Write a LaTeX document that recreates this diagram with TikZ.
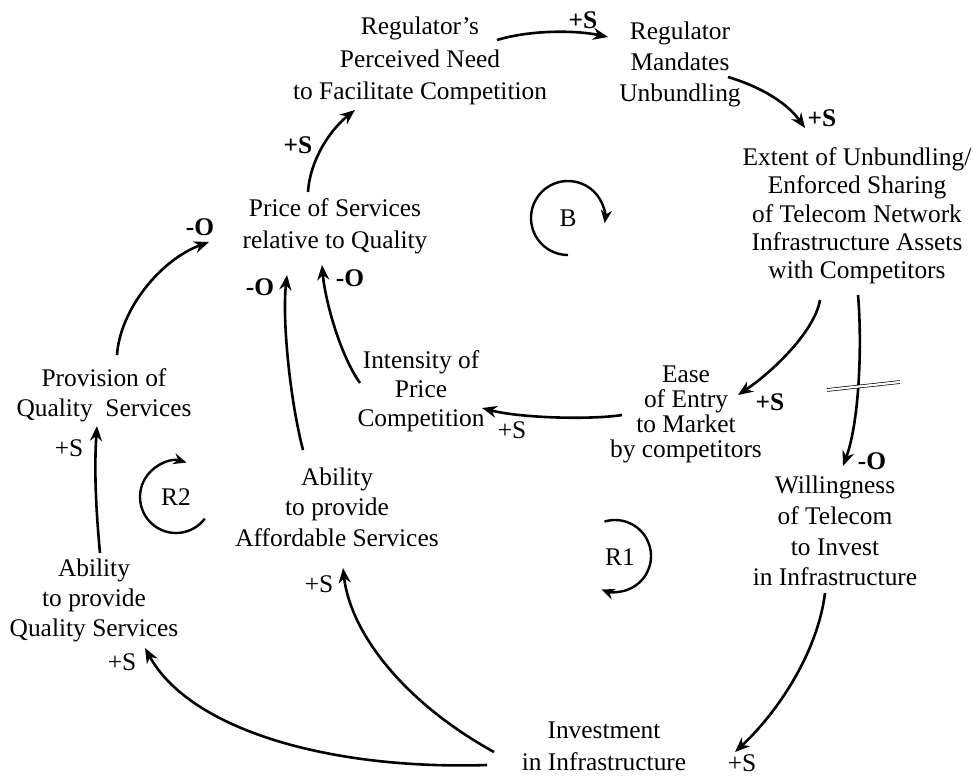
\documentclass[tikz,border=0pt]{standalone}
\usepackage{fontspec}
\setmainfont{Liberation Serif}
\usetikzlibrary{arrows.meta}
\newcommand\fsz[1]{\fontsize{25.4}{#1}\selectfont}
\begin{document}
\begin{tikzpicture}[x=1pt,y=1pt,
  box/.style={align=center, inner sep=0pt},
  arr/.style={line width=2.6pt, -{Stealth[length=15pt,width=12pt]}},
  loopar/.style={line width=2.4pt, -{Stealth[length=13pt,width=11pt]}},
  pol/.style={inner sep=0pt, font=\fsz{30}\bfseries},
  poln/.style={inner sep=0pt, font=\fsz{30}},
  lp/.style={inner sep=0pt, font=\fsz{30}}]
\useasboundingbox (0,0) rectangle (973,-776);
% nodes
\node[box, font=\fsz{32.5}] (RN) at (420,-61) {Regulator’s\\Perceived Need\\to Facilitate Competition};
\node[box, font=\fsz{31}] (RM) at (680,-64) {Regulator\\Mandates\\Unbundling};
\node[box, font=\fsz{28.3}] (EX) at (857,-216) {Extent of Unbundling/\\Enforced Sharing\\of Telecom Network\\Infrastructure Assets\\with Competitors};
\node[box, font=\fsz{32}] (PS) at (335,-226) {Price of Services\\relative to Quality};
\node[box, font=\fsz{30}] (PQ) at (104,-395) {Provision of\\Quality\ \ Services};
\node[box, font=\fsz{29}] (IC) at (421,-391) {Intensity of\\Price\\Competition};
\node[box, font=\fsz{25}] (EE) at (686,-414) {Ease\\of Entry\\to Market\\by competitors};
\node[box, font=\fsz{30.5}] (AA) at (337,-507) {Ability\\to provide\\Affordable Services};
\node[box, font=\fsz{30}] (AQ) at (94,-600) {Ability\\to provide\\Quality Services};
\node[box, font=\fsz{30.7}] (WI) at (835,-531) {Willingness\\of Telecom\\to Invest\\in Infrastructure};
\node[box, font=\fsz{32}] (IN) at (604,-746) {Investment\\in Infrastructure};
% connectors
\draw[arr] ([shift={(77,21)}]RN.center) .. controls (530,-30) and (575,-30) .. ([shift={(-72,27)}]RM.center);
\node[pol] (l1) at (583,-20) {+S};
\draw[arr] ([shift={(48,-13)}]RM.center) .. controls (755,-85) and (785,-100) .. ([shift={(-52,88)}]EX.center);
\node[pol] (l2) at (822,-118) {+S};
\draw[arr] ([shift={(-37,-84)}]EX.center) .. controls (815,-330) and (775,-370) .. ([shift={(52,19)}]EE.center);
\node[pol] (l3) at (770,-402) {+S};
\draw[arr] ([shift={(1,-79)}]EX.center) .. controls (862,-340) and (860,-420) .. ([shift={(8,65)}]WI.center);
\node[pol] (l4) at (872,-461) {-O};
\coordinate (d1) at (827,-390);
\coordinate (d2) at (900,-382);
\draw[line width=0.7pt, double=white, double distance=2.2pt] (d1) -- (d2);
\draw[arr] ([shift={(-64,-1)}]EE.center) .. controls (590,-420) and (520,-418) .. ([shift={(61,-17)}]IC.center);
\node[poln] (l5) at (512,-430) {+S};
\draw[arr] ([shift={(-61,8)}]IC.center) .. controls (340,-355) and (325,-300) .. ([shift={(-13,-39)}]PS.center);
\node[pol] (l6) at (350,-278) {-O};
\draw[arr] ([shift={(-34,57)}]AA.center) .. controls (290,-400) and (282,-320) .. ([shift={(-48,-49)}]PS.center);
\node[pol] (l7) at (260,-287) {-O};
\draw[arr] ([shift={(13,40)}]PQ.center) .. controls (120,-310) and (160,-260) .. ([shift={(-126,-16)}]PS.center);
\node[pol] (l8) at (200,-227) {-O};
\draw[arr] ([shift={(-27,34)}]PS.center) .. controls (310,-160) and (330,-130) .. ([shift={(-65,-49)}]RN.center);
\node[pol] (l9) at (298,-145) {+S};
\draw[arr] ([shift={(6,47)}]AQ.center) .. controls (96,-510) and (94,-470) .. ([shift={(-7,-31)}]PQ.center);
\node[poln] (l10) at (69,-448) {+S};
\draw[arr] ([shift={(-110,-6)}]IN.center) .. controls (400,-700) and (350,-630) .. ([shift={(6,-61)}]AA.center);
\node[poln] (l11) at (319,-584) {+S};
\draw[arr] ([shift={(-117,-19)}]IN.center) .. controls (330,-770) and (190,-730) .. ([shift={(51,-48)}]AQ.center);
\node[poln] (l12) at (122,-662) {+S};
\draw[arr] ([shift={(-10,-62)}]WI.center) .. controls (818,-650) and (780,-710) .. ([shift={(131,-6)}]IN.center);
\node[poln] (l13) at (742,-763) {+S};
% loops
\node[lp] (B) at (568,-218) {B};
\draw[loopar] ([shift={(-90:37)}]B.center) arc[start angle=-90, end angle=-368, radius=37];
\node[lp] (R2) at (176,-497) {R2};
\draw[loopar] ([shift={(-37:36)}]R2.center) arc[start angle=-37, end angle=-287, radius=36];
\node[lp] (R1) at (620,-557) {R1};
\coordinate (R1c) at (615,-556);
\draw[loopar] ([shift={(107:36)}]R1c) arc[start angle=107, end angle=-112, radius=36];
\end{tikzpicture}
\end{document}
